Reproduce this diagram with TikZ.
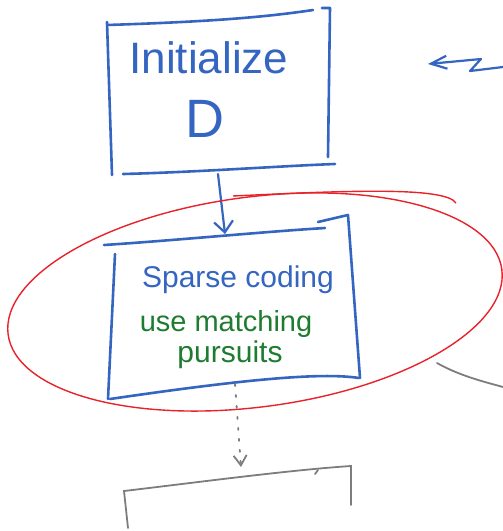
\documentclass[tikz,border=0pt]{standalone}
\usepackage{fontspec}
\setmainfont{Liberation Sans}
\usetikzlibrary{arrows.meta}
\definecolor{penblue}{RGB}{52,101,192}
\definecolor{pengreen}{RGB}{30,123,48}
\definecolor{penred}{RGB}{232,34,42}
\definecolor{pengray}{RGB}{125,125,125}
\begin{document}
\begin{tikzpicture}[x=1pt,y=-1pt]
		\tikzset{box/.style = {draw=penblue, line width=2.6pt, line cap=round, line join=round}}
		\tikzset{edge/.style = {penblue, line width=2.2pt, line cap=round, line join=round, -{Straight Barb[length=11pt,width=19pt,line width=2.2pt]}}}
		\tikzset{loop/.style = {penred, line width=1.4pt}}
		\tikzset{later/.style = {pengray, line width=1.8pt, line cap=round}}
		\tikzset{label/.style = {inner sep=0pt, anchor=base}}
		
		\useasboundingbox (0,0) rectangle (503,531);
		
		% first step: initialize D
		\draw[box] (107,25) .. controls (200,22) and (260,18) .. (313,10);
		\draw[box] (322,8) -- (330,8) -- (328,157);
		\draw[box] (107,22) -- (112,175);
		\draw[box] (123,174) .. controls (200,172) and (280,166) .. (335,164);
		\node[label, penblue, font=\fontsize{44}{44}\selectfont] (init) at (209,73) {Initialize};
		\node[label, penblue, font=\fontsize{54}{54}\selectfont] (dict) at (205,137) {D};
		
		% second step: sparse coding
		\draw[box] (104,245) .. controls (180,240) and (260,232) .. (325,228);
		\draw[box] (318,222) -- (348,215) -- (360,378);
		\draw[box] (359,378) .. controls (320,372) and (240,380) .. (110,399);
		\draw[box] (115,254) -- (108,399);
		\node[label, penblue, font=\fontsize{30}{30}\selectfont] (code) at (238,287) {Sparse coding};
		\node[label, pengreen, font=\fontsize{29}{29}\selectfont] (omp) at (226,331) {use matching};
		\node[label, pengreen, font=\fontsize{30}{30}\selectfont] (omp2) at (230,362) {pursuits};
		
		\coordinate (initS) at (218,174);
		\coordinate (codeN) at (225,234);
		\draw[edge] (initS) to (codeN);
		
		% loop mark round the sparse coding step
		\coordinate (ring) at (255,302);
		\draw[loop, rotate around={7.5:(ring)}] (ring) ellipse [x radius=249, y radius=105];
		\draw[loop] (233,196) .. controls (340,191) and (445,186) .. (456,203);
		
		% back arrow from the right
		\coordinate (back) at (503,67);
		\coordinate (backT) at (428,64);
		\draw[edge, -{Straight Barb[length=16pt,width=13pt,line width=2.2pt]}] (back) -- (470,71) -- (481,59) -- (backT);
		
		% next step, only begun
		\coordinate (codeS) at (235,384);
		\coordinate (nextN) at (241,467);
		\draw[later, dash pattern=on 2pt off 9pt, -{Straight Barb[length=10pt,width=13pt,line width=1.8pt]}] (codeS) to (nextN);
		\draw[later] (128,528) -- (124,491) .. controls (200,482) and (290,470) .. (351,466) -- (351,505);
		\draw[later] (315,474) -- (318,470);
		\coordinate (side) at (503,387);
		\draw[later] (437,363) .. controls (460,376) and (485,382) .. (side);
\end{tikzpicture}
\end{document}
